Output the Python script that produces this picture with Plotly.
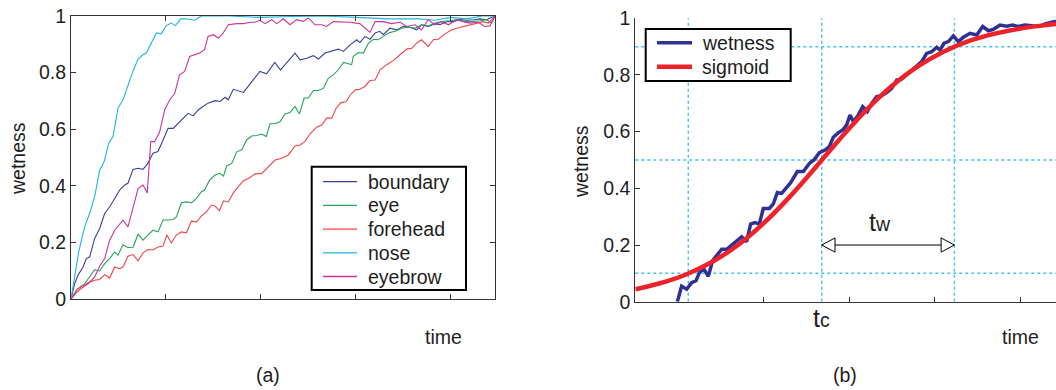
import plotly.graph_objects as go

# ---------------- Panel (a) data ----------------
boundary_x = [0, 1.16, 2.2, 3.8, 4.85, 5.9, 7.48, 9.06, 10.64, 12.22, 13.8, 15.38, 16.96, 18.0, 19.6, 21.2,
              22.76, 24.3, 25.9, 27.5, 29.1, 30.7, 32.3, 33.8, 35.4, 37.0, 38.6, 40.2, 41.7, 43.3, 45.5, 47.1,
              48.7, 49.7, 51.3, 52.9, 54.5, 56.1, 57.7, 59.7, 61.8, 64.4, 66.2, 68.2, 70.8, 72.4, 74.5, 76.6,
              78.2, 80.3, 82.4, 84.5, 86.1, 88.2, 90.3, 91.3, 92.9, 94.5, 96.1, 97.6, 98.7, 100.8, 102.9, 105.0,
              107.1, 109.2, 110.8, 112.9, 115.0, 116.6, 118.7, 120.8, 122.9, 125.0, 127.2, 129.3, 131.3, 134.0]
boundary_y = [0, 0.054, 0.084, 0.113, 0.143, 0.149, 0.214, 0.249, 0.302, 0.326, 0.355, 0.385, 0.403, 0.409,
              0.458, 0.462, 0.458, 0.479, 0.515, 0.521, 0.562, 0.603, 0.603, 0.621, 0.639, 0.656, 0.647, 0.668,
              0.68, 0.692, 0.701, 0.698, 0.713, 0.704, 0.741, 0.736, 0.73, 0.753, 0.774, 0.804, 0.796, 0.836,
              0.81, 0.834, 0.869, 0.845, 0.851, 0.86, 0.848, 0.869, 0.875, 0.883, 0.875, 0.898, 0.916, 0.906,
              0.928, 0.918, 0.94, 0.946, 0.934, 0.957, 0.951, 0.963, 0.96, 0.951, 0.969, 0.963, 0.973, 0.969,
              0.98, 0.98, 0.987, 0.985, 0.987, 0.99, 0.987, 1.0]

eye_x = [0, 2.2, 4.32, 5.9, 7.48, 9.06, 10.64, 12.22, 13.8, 14.85, 16.43, 18.0, 19.6, 21.2, 22.76, 24.3, 25.9,
         27.5, 29.1, 30.7, 32.3, 33.3, 34.9, 36.5, 38.1, 39.6, 41.2, 42.2, 43.8, 45.5, 47.1, 48.2, 49.2, 50.8,
         52.4, 54.0, 55.5, 57.1, 58.7, 60.3, 61.7, 62.9, 64.5, 66.1, 67.6, 69.2, 70.8, 72.2, 73.7, 75.0, 76.6,
         78.2, 79.8, 81.3, 82.9, 84.5, 86.1, 87.7, 88.7, 89.2, 90.8, 92.4, 94.0, 95.6, 97.1, 98.7, 100.3, 102.4,
         104.5, 106.6, 108.7, 110.8, 112.9, 115.0, 117.2, 119.8, 121.9, 124.5, 126.6, 129.3, 131.3, 132.9, 134.0]
eye_y = [0, 0.037, 0.054, 0.078, 0.104, 0.099, 0.125, 0.143, 0.166, 0.155, 0.192, 0.182, 0.183, 0.229, 0.208,
         0.226, 0.243, 0.237, 0.279, 0.279, 0.281, 0.29, 0.34, 0.343, 0.34, 0.355, 0.379, 0.385, 0.42, 0.438,
         0.444, 0.434, 0.47, 0.479, 0.52, 0.527, 0.562, 0.576, 0.578, 0.583, 0.574, 0.619, 0.619, 0.627, 0.654,
         0.659, 0.68, 0.654, 0.71, 0.71, 0.737, 0.737, 0.745, 0.78, 0.792, 0.81, 0.836, 0.831, 0.828, 0.857,
         0.871, 0.869, 0.904, 0.918, 0.916, 0.928, 0.94, 0.946, 0.957, 0.96, 0.957, 0.969, 0.965, 0.975, 0.98,
         0.983, 0.987, 0.98, 0.98, 0.983, 0.987, 0.975, 1.0]

forehead_x = [0, 1.69, 3.27, 5.37, 7.48, 9.06, 10.64, 12.22, 13.8, 15.38, 16.43, 18.0, 19.6, 21.2, 22.76, 24.3,
              25.9, 27.5, 29.1, 30.3, 31.7, 33.3, 34.9, 36.5, 38.1, 39.6, 41.2, 42.8, 44.4, 45.5, 46.9, 48.2,
              49.7, 51.3, 52.9, 54.5, 56.1, 58.2, 60.3, 62.4, 64.5, 66.6, 68.7, 70.8, 72.4, 73.9, 75.5, 77.6,
              79.2, 80.8, 82.4, 83.8, 85.3, 86.9, 88.2, 89.8, 91.3, 92.9, 94.5, 96.1, 97.7, 99.8, 101.9, 104.0,
              106.1, 107.7, 109.2, 110.8, 112.9, 114.5, 116.1, 118.2, 120.3, 121.9, 124.0, 126.1, 128.3, 130.3,
              131.9, 132.9, 134.0]
forehead_y = [0, 0.031, 0.043, 0.057, 0.066, 0.069, 0.086, 0.074, 0.113, 0.107, 0.113, 0.151, 0.157, 0.135,
              0.163, 0.175, 0.173, 0.184, 0.187, 0.226, 0.198, 0.226, 0.237, 0.234, 0.276, 0.272, 0.293, 0.308,
              0.332, 0.329, 0.312, 0.347, 0.343, 0.375, 0.397, 0.418, 0.426, 0.442, 0.444, 0.468, 0.491, 0.497,
              0.509, 0.541, 0.544, 0.556, 0.583, 0.607, 0.615, 0.639, 0.639, 0.674, 0.694, 0.697, 0.72, 0.739,
              0.741, 0.751, 0.772, 0.774, 0.81, 0.828, 0.843, 0.863, 0.883, 0.886, 0.904, 0.916, 0.892, 0.916,
              0.918, 0.937, 0.951, 0.957, 0.963, 0.969, 0.975, 0.98, 0.975, 0.987, 1.0]

nose_x = [0, 1.16, 2.5, 4.32, 5.9, 7.48, 9.06, 10.43, 11.9, 13.27, 14.85, 16.43, 18.0, 19.6, 21.2, 22.76, 23.8,
          25.4, 27.0, 28.5, 30.1, 31.7, 33.0, 34.7, 36.4, 39.1, 41.2, 50, 60, 70, 80, 90, 100, 110, 115, 120,
          125, 130, 134]
nose_y = [0, 0.078, 0.17, 0.255, 0.303, 0.362, 0.455, 0.484, 0.55, 0.574, 0.674, 0.704, 0.757, 0.805, 0.848,
          0.863, 0.869, 0.905, 0.94, 0.937, 0.966, 0.975, 0.966, 0.99, 0.99, 0.985, 1.0, 1.0, 0.995, 0.998, 1.0,
          0.995, 0.99, 0.99, 0.985, 0.995, 0.99, 1.0, 1.0]

eyebrow_x = [0, 1.5, 3.0, 5.37, 7.48, 9.06, 10.64, 12.22, 13.8, 15.38, 16.43, 18.0, 19.6, 21.2, 22.76, 24.1,
             25.2, 26.4, 28.0, 29.6, 31.2, 32.8, 34.3, 35.9, 37.5, 39.1, 40.7, 42.2, 43.3, 44.9, 46.6, 48.1,
             49.7, 52.4, 54.5, 56.6, 58.1, 59.7, 61.3, 63.4, 65.0, 67.1, 69.2, 71.3, 73.4, 75.0, 77.1, 79.2,
             80.8, 82.9, 85.6, 88.2, 91.3, 94.5, 96.1, 98.7, 101.3, 104.0, 106.1, 108.7, 110.8, 112.9, 115.0,
             117.2, 119.3, 121.9, 124.0, 126.1, 128.7, 130.8, 132.4, 134.0]
eyebrow_y = [0, 0.02, 0.035, 0.054, 0.078, 0.116, 0.143, 0.208, 0.243, 0.267, 0.279, 0.255, 0.326, 0.39,
             0.403, 0.375, 0.556, 0.556, 0.59, 0.668, 0.704, 0.727, 0.792, 0.804, 0.857, 0.863, 0.869, 0.881,
             0.928, 0.934, 0.922, 0.94, 0.969, 0.973, 0.973, 0.978, 0.978, 0.985, 0.973, 0.987, 0.973, 0.99,
             0.969, 0.987, 0.981, 0.993, 0.969, 0.969, 0.963, 0.98, 0.98, 0.978, 0.973, 0.942, 0.98, 0.98, 0.973,
             0.978, 0.963, 0.969, 0.951, 0.987, 0.969, 0.98, 0.969, 0.987, 0.98, 0.975, 0.978, 0.963, 0.965, 1.0]

a_xticks = [30, 60, 90, 120]
yticks = [0, 0.2, 0.4, 0.6, 0.8, 1]
ytick_text = ["0", "0.2", "0.4", "0.6", "0.8", "1"]

# ---------------- Panel (b) data ----------------
wet_x = [9.91, 10.41, 11.0, 11.58, 12.09, 12.55, 13.02, 13.53, 14.03, 14.5, 15.09, 15.67, 16.25, 16.84, 17.42,
         18.0, 18.47, 18.98, 19.49, 19.95, 20.65, 21.12, 21.59, 22.09, 22.68, 23.15, 23.93, 24.63, 25.33, 25.87,
         26.5, 27.16, 27.66, 28.13, 28.71, 29.3, 29.69, 30.08, 30.47, 31.05, 31.56, 32.1, 32.61, 33.19, 33.78,
         34.36, 34.95, 35.53, 36.11, 36.7, 37.28, 37.87, 38.45, 39.03, 39.62, 40.2, 40.59, 41.06, 41.57, 42.15,
         42.73, 43.32, 44.1, 44.88, 45.58, 46.24, 46.82, 47.6, 48.38, 49.08, 49.74, 50.52, 51.3, 52.08, 52.86,
         53.64, 54.14]
wet_y = [0, 0.055, 0.044, 0.067, 0.074, 0.106, 0.114, 0.09, 0.145, 0.161, 0.185, 0.185, 0.2, 0.218, 0.229,
         0.212, 0.274, 0.279, 0.274, 0.329, 0.329, 0.345, 0.385, 0.382, 0.406, 0.42, 0.459, 0.459, 0.488, 0.5,
         0.526, 0.535, 0.547, 0.58, 0.596, 0.608, 0.624, 0.659, 0.635, 0.659, 0.688, 0.671, 0.7, 0.724, 0.727,
         0.738, 0.753, 0.782, 0.785, 0.8, 0.815, 0.832, 0.847, 0.876, 0.882, 0.898, 0.888, 0.912, 0.918, 0.938,
         0.918, 0.933, 0.947, 0.941, 0.971, 0.956, 0.961, 0.976, 0.972, 0.976, 0.971, 0.976, 0.972, 0.971, 0.98,
         0.985, 0.99]

sig_x = [5, 8, 11, 14, 17, 20, 23, 26, 29, 32, 35, 38, 41, 44, 47, 50, 53, 54.14]
sig_y = [0.044, 0.066, 0.097, 0.141, 0.2, 0.277, 0.369, 0.472, 0.578, 0.677, 0.762, 0.83, 0.882, 0.92,
         0.946, 0.964, 0.976, 0.98]

b_xticks = [20, 30, 40, 50]
t_c = 26.78
t_lo = 11.19
t_hi = 42.27
h_levels = [0.1, 0.5, 0.9]
arrow_y = 0.2

FONT = "Liberation Sans, Arial, Helvetica, sans-serif"
FS = 19.5
TXT = "#1e1e1e"
W, H = 1056, 390


def px(x):
    return x / W


def py(y):
    return 1 - y / H


fig = go.Figure()

series_a = [
    ("boundary", boundary_x, boundary_y, "#3c3f9c"),
    ("eye", eye_x, eye_y, "#26a35a"),
    ("forehead", forehead_x, forehead_y, "#f04545"),
    ("nose", nose_x, nose_y, "#1eb6e2"),
    ("eyebrow", eyebrow_x, eyebrow_y, "#cc3399"),
]
for name, xs, ys, col in series_a:
    fig.add_trace(go.Scatter(x=xs, y=ys, mode="lines", name=name, line=dict(color=col, width=1.1),
                             xaxis="x", yaxis="y", showlegend=False))

series_b = [
    ("wetness", wet_x, wet_y, "#2e3192", 3.5, "linear"),
    ("sigmoid", sig_x, sig_y, "#ee2229", 4.5, "spline"),
]
for name, xs, ys, col, wd, shp in series_b:
    fig.add_trace(go.Scatter(x=xs, y=ys, mode="lines", name=name, line=dict(color=col, width=wd, shape=shp),
                             xaxis="x2", yaxis="y2", showlegend=False))

shapes = []
annotations = []
grid_style = dict(color="#45c3ea", width=1.5, dash="dot")
for xv in [t_lo, t_c, t_hi]:
    shapes.append(dict(type="line", xref="x2", yref="y2", x0=xv, x1=xv, y0=0, y1=1, line=grid_style, layer="below"))
for yv in h_levels:
    shapes.append(dict(type="line", xref="x2 domain", yref="y2", x0=0, x1=1, y0=yv, y1=yv, line=grid_style,
                       layer="below"))
# double arrow t_w
shapes.append(dict(type="line", xref="x2", yref="y2", x0=t_c, x1=t_hi, y0=arrow_y, y1=arrow_y,
                   line=dict(color="black", width=1)))
tri_l, tri_h = 1.55, 0.025
shapes.append(dict(type="path", xref="x2", yref="y2",
                   path=f"M {t_c},{arrow_y} L {t_c + tri_l},{arrow_y + tri_h} L {t_c + tri_l},{arrow_y - tri_h} Z",
                   fillcolor="white", line=dict(color="black", width=1)))
shapes.append(dict(type="path", xref="x2", yref="y2",
                   path=f"M {t_hi},{arrow_y} L {t_hi - tri_l},{arrow_y + tri_h} L {t_hi - tri_l},{arrow_y - tri_h} Z",
                   fillcolor="white", line=dict(color="black", width=1)))


def add_legend(entries, box, line_x, text_x, row_y0, row_dy):
    x0, y0, x1, y1 = box
    shapes.append(dict(type="rect", xref="paper", yref="paper", x0=px(x0), x1=px(x1), y0=py(y1), y1=py(y0),
                       fillcolor="white", line=dict(color="black", width=2), layer="above"))
    for i, (name, col, wd) in enumerate(entries):
        yy = row_y0 + i * row_dy
        shapes.append(dict(type="line", xref="paper", yref="paper", x0=px(line_x[0]), x1=px(line_x[1]),
                           y0=py(yy), y1=py(yy), line=dict(color=col, width=wd), layer="above"))
        annotations.append(dict(text=name, x=px(text_x), y=py(yy), xref="paper", yref="paper", xanchor="left",
                                yanchor="middle", showarrow=False, font=dict(family=FONT, size=FS, color=TXT)))


add_legend([(n, c, 1.3) for n, _, _, c in series_a], (311.7, 166.7, 466, 290), (323, 357), 366, 181.7, 23.7)
add_legend([(n, c, w) for n, _, _, c, w, _ in series_b], (645.7, 29, 790.7, 81), (657, 692), 700, 42.7, 24)

tfont = dict(family=FONT, size=FS, color=TXT)


def label(text, x, y, xref="paper", yref="paper", angle=0):
    return dict(text=text, x=x, y=y, xref=xref, yref=yref, xanchor="center", yanchor="middle",
                textangle=angle, showarrow=False, font=tfont)


annotations += [
    label("wetness", px(18), py(159), angle=-90),
    label("wetness", px(581), py(162), angle=-90),
    label("time", px(443), py(337)),
    label("time", px(1020), py(337)),
    label("(a)", px(268), py(375)),
    label("(b)", px(845), py(375)),
    label('<span style="font-size:25px">t</span>c', t_c, py(318), xref="x2"),
    label('<span style="font-size:25px">t</span>w', 33.6, 0.28, xref="x2", yref="y2"),
]

axis_common = dict(showgrid=False, zeroline=False, ticks="inside", ticklen=5, tickcolor="#333",
                   linecolor="#333", linewidth=1, showline=True, automargin=False,
                   tickfont=dict(family=FONT, size=FS, color=TXT))

fig.update_layout(
    width=W, height=H,
    margin=dict(l=0, r=0, t=0, b=0, pad=0),
    paper_bgcolor="white", plot_bgcolor="white",
    font=dict(family=FONT, size=FS, color=TXT),
    showlegend=False,
    xaxis=dict(domain=[px(71), px(495)], range=[0, 134], tickvals=a_xticks, showticklabels=False,
               mirror="ticks", anchor="y", **axis_common),
    yaxis=dict(domain=[py(299), py(16)], range=[0, 1], tickvals=yticks, ticktext=ytick_text,
               mirror="ticks", anchor="x", **axis_common),
    xaxis2=dict(domain=[px(635.3), 1.0], range=[5, 54.14], tickvals=b_xticks, showticklabels=False,
                anchor="y2", **axis_common),
    yaxis2=dict(domain=[py(301.7), py(18.3)], range=[0, 1], tickvals=yticks, ticktext=ytick_text,
                anchor="x2", **axis_common),
    shapes=shapes,
    annotations=annotations,
)

fig.write_html("out.html", config={"displayModeBar": False},
               post_script="document.body.style.margin='0';document.body.style.overflow='hidden';")
